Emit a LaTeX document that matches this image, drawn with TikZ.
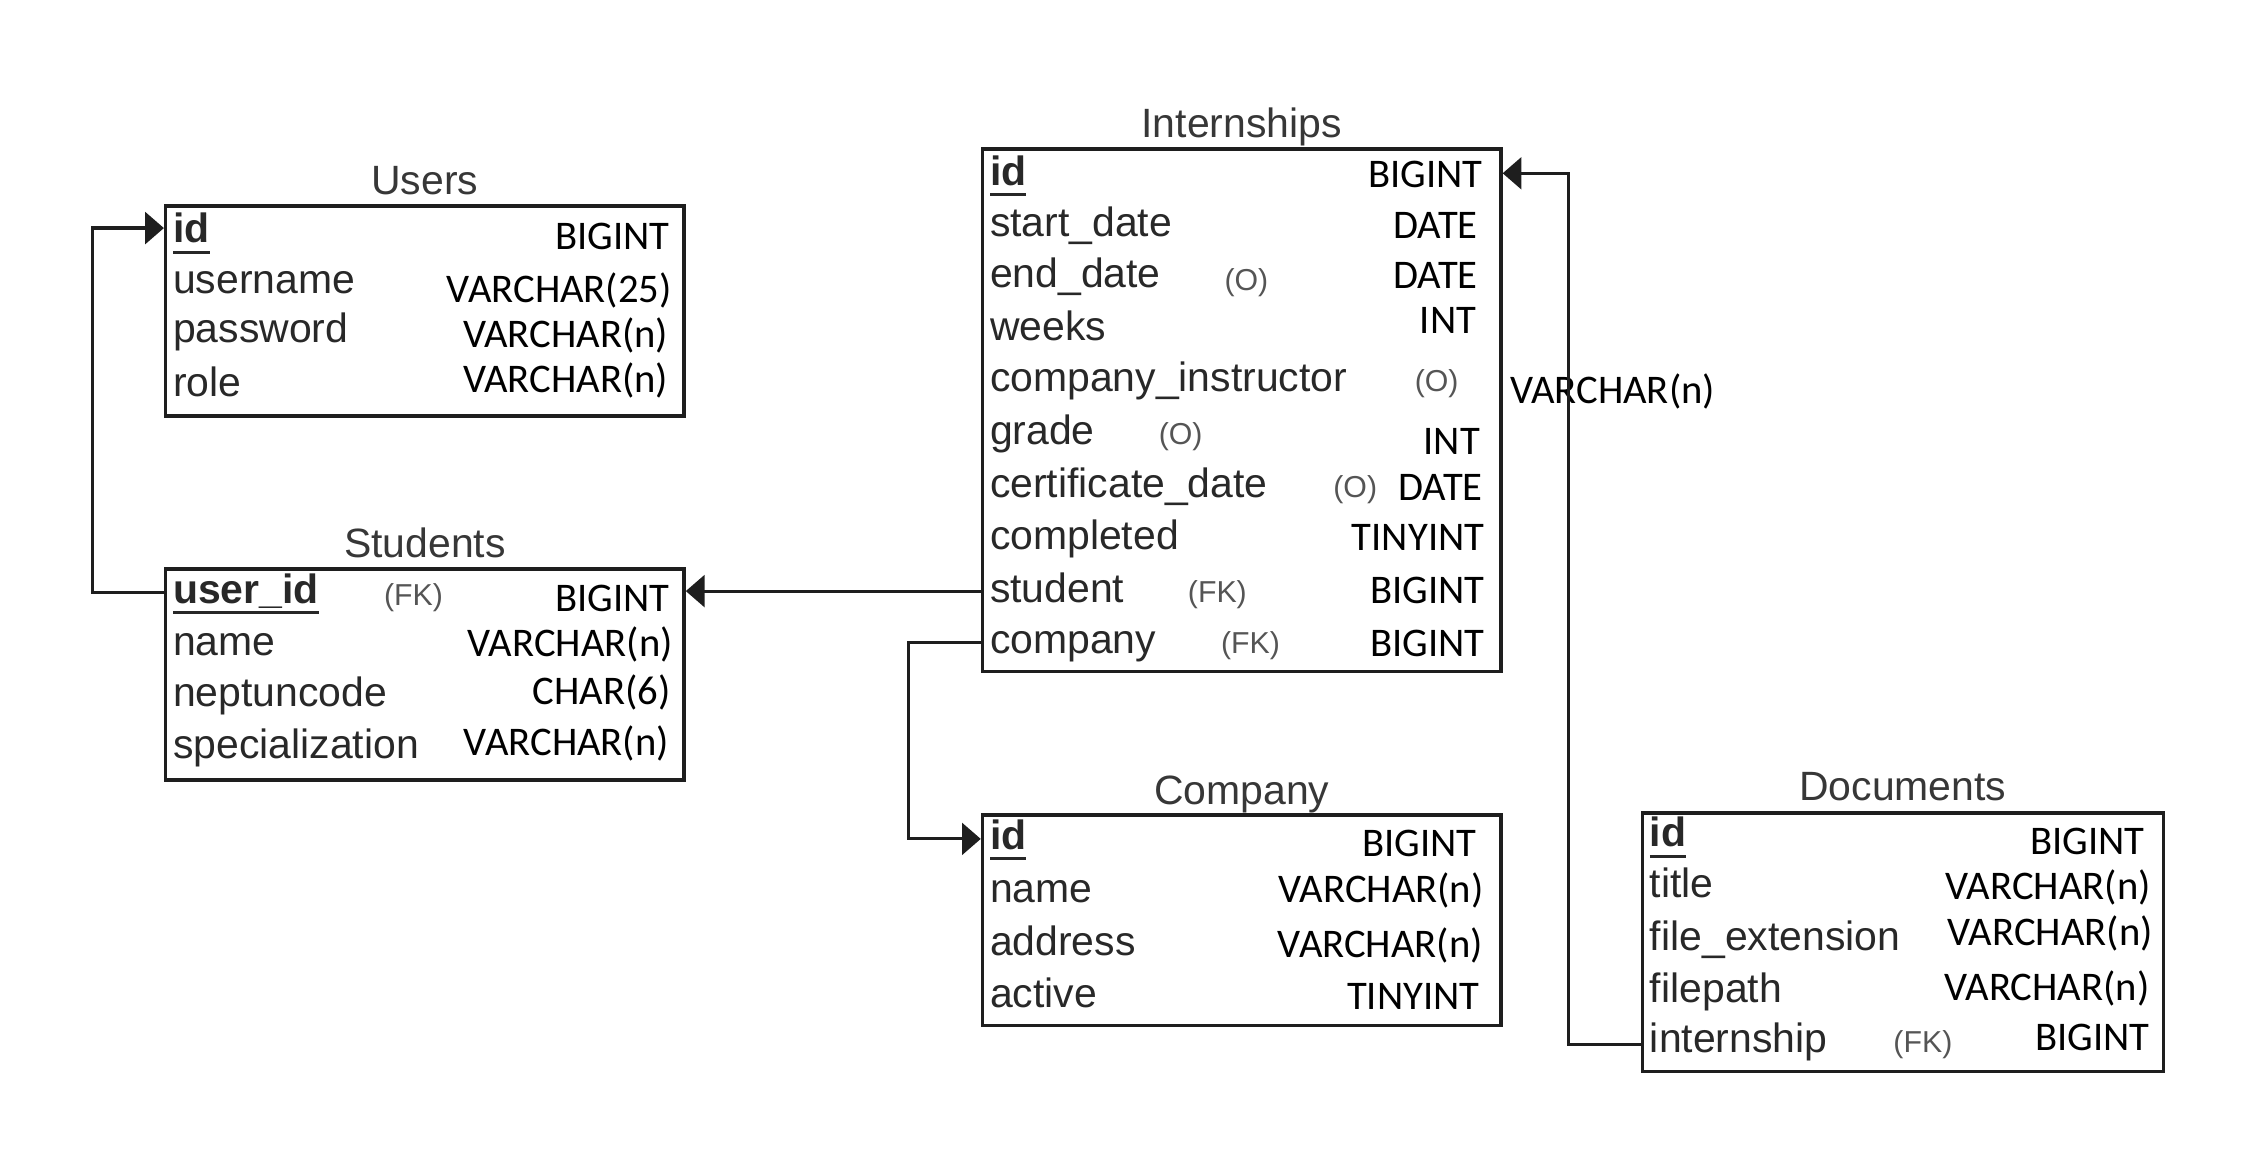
\documentclass[tikz,border=0pt]{standalone}
\usepackage{fontspec}
\setmainfont{Liberation Sans}
\newfontfamily\typefont{Carlito}
\usepackage{xcolor}
\usetikzlibrary{arrows.meta, positioning}
\definecolor{fieldgray}{RGB}{40,40,40}
\definecolor{titlegray}{RGB}{55,55,55}
\definecolor{markgray}{RGB}{85,85,85}
\definecolor{linegray}{RGB}{30,30,30}
% primary key: bold and underlined
\newcommand{\pkey}[1]{\setbox0\hbox{\textbf{#1}}\rlap{\rule[-3.7pt]{\wd0}{1pt}}\box0}
\tikzset{%
	table box/.style={
		draw=linegray,
		line width=1.2pt,
		anchor=north west,
		minimum width=179.8pt,
		inner sep=0pt
	},
	table title/.style={
		anchor=base,
		inner sep=0pt,
		text=titlegray,
		font=\fontsize{14.2}{17}\selectfont
	},
	field name/.style={
		anchor=base west,
		inner sep=0pt,
		xshift=3pt,
		text=fieldgray,
		font=\fontsize{14.2}{17}\selectfont
	},
	field type/.style={
		anchor=base east,
		inner sep=0pt,
		text=black,
		font=\typefont\fontsize{14.1}{17}\selectfont
	},
	field mark/.style={
		anchor=base west,
		inner sep=0pt,
		text=markgray,
		font=\fontsize{10.5}{12}\selectfont
	},
	fk line/.style={
		draw=linegray,
		line width=1.1pt,
		-{Triangle[length=6.5pt,width=11pt]}
	},
}

\begin{document}
\begin{tikzpicture}[x=0.5pt, y=-0.5pt]
	\useasboundingbox (0,0) rectangle (1560,803.2);
	
	% Users table
	\node[table box, minimum height=72.9pt] (users) at (113.7,141.7) {};
	\node[table title] (users-title) at (users.north |- 0,134.8) {Users};
	\foreach \fname/\fy [count=\i] in {{\pkey{id}}/168.5, username/203.4, password/237.6, role/275} {
		\node[field name] (users-f\i) at (users.west |- 0,\fy) {\fname};
	}
	\foreach \ftype/\ty/\tx [count=\i] in {BIGINT/172.8/464.8, VARCHAR(25)/209.6/466.4, VARCHAR(n)/240.7/463.8, VARCHAR(n)/272.5/463.8} {
		\node[field type] (users-t\i) at (\tx,\ty) {\ftype};
	}
	\coordinate (users-c1) at (0,158.2);
	
	% Students table
	\node[table box, minimum height=73.2pt] (students) at (113.7,393.4) {};
	\node[table title] (students-title) at (students.north |- 0,386.5) {Students};
	\foreach \fname/\fy [count=\i] in {{\pkey{user\_id}}/418.3, name/454.7, neptuncode/490, specialization/525.8} {
		\node[field name] (students-f\i) at (students.west |- 0,\fy) {\fname};
	}
	\foreach \ftype/\ty/\tx [count=\i] in {BIGINT/424.5/464.8, VARCHAR(n)/455.7/467, CHAR(6)/488.4/465.4, VARCHAR(n)/524.2/464.4} {
		\node[field type] (students-t\i) at (\tx,\ty) {\ftype};
	}
	\node[field mark] (students-m1) at (266,419.9) {(FK)};
	\coordinate (students-c1) at (0,411);
	
	% Internships table
	\node[table box, minimum height=181.2pt] (internships) at (680.3,102.3) {};
	\node[table title] (internships-title) at (internships.north |- 0,95.4) {Internships};
	\foreach \fname/\fy [count=\i] in {{\pkey{id}}/128.5, start\_date/164.3, end\_date/199.3, weeks/236, company\_instructor/271.8, grade/308.4, certificate\_date/345.3, completed/381, student/417.8, company/453.6} {
		\node[field name] (internships-f\i) at (internships.west |- 0,\fy) {\fname};
	}
	\foreach \ftype/\ty/\tx [count=\i] in {BIGINT/130.4/1028.9, DATE/165.7/1025.4, DATE/200.1/1025.4, INT/231.3/1024.3, INT/315/1027, DATE/347.5/1028.9, TINYINT/382/1030, BIGINT/418.6/1030, BIGINT/455.5/1030} {
		\node[field type] (internships-t\i) at (\tx,\ty) {\ftype};
	}
	\node[field type, anchor=base west] (internships-t10) at (1047,280) {VARCHAR(n)};
	\foreach \fmark/\mx/\my [count=\i] in {(O)/849/201.5, (O)/981/271.8, (O)/803.4/308.4, (O)/924.5/345.3, (FK)/823.6/417.8, (FK)/846.6/453.6} {
		\node[field mark] (internships-m\i) at (\mx,\my) {\fmark};
	}
	\coordinate (internships-c1) at (0,120.2);
	\coordinate (internships-c9) at (0,410);
	\coordinate (internships-c10) at (0,445.4);
	
	% Company table
	\node[table box, minimum height=73pt] (company) at (680.3,564.2) {};
	\node[table title] (company-title) at (company.north |- 0,557.9) {Company};
	\foreach \fname/\fy [count=\i] in {{\pkey{id}}/589, name/626, address/662.6, active/698.5} {
		\node[field name] (company-f\i) at (company.west |- 0,\fy) {\fname};
	}
	\foreach \ftype/\ty/\tx [count=\i] in {BIGINT/594.3/1024.5, VARCHAR(n)/626/1029.5, VARCHAR(n)/664/1029, TINYINT/699.9/1026.7} {
		\node[field type] (company-t\i) at (\tx,\ty) {\ftype};
	}
	\coordinate (company-c1) at (0,581.9);
	
	% Documents table
	\node[table box, minimum width=180.6pt, minimum height=89.7pt] (documents) at (1138.1,562.6) {};
	\node[table title] (documents-title) at (documents.north |- 0,555.1) {Documents};
	\foreach \fname/\fy [count=\i] in {{\pkey{id}}/587.4, title/622.7, file\_extension/659, filepath/695.7, internship/730.2} {
		\node[field name] (documents-f\i) at (documents.west |- 0,\fy) {\fname};
	}
	\foreach \ftype/\ty/\tx [count=\i] in {BIGINT/592.4/1487.8, VARCHAR(n)/624.1/1492.2, VARCHAR(n)/655.7/1493.6, VARCHAR(n)/693.8/1491.4, BIGINT/728.8/1491.4} {
		\node[field type] (documents-t\i) at (\tx,\ty) {\ftype};
	}
	\node[field mark] (documents-m1) at (1313,730.2) {(FK)};
	\coordinate (documents-c5) at (0,724.7);
	
	% Foreign keys
	\draw[fk line] (students.west |- students-c1) -- ++(-49.5,0) |- (users.west |- users-c1);
	\draw[fk line] (internships.west |- internships-c9) -- (students.east |- internships-c9);
	\draw[fk line] (internships.west |- internships-c10) -- ++(-49.9,0) |- (company.west |- company-c1);
	\draw[fk line] (documents.west |- documents-c5) -- ++(-49.9,0) |- (internships.east |- internships-c1);
\end{tikzpicture}
\end{document}
